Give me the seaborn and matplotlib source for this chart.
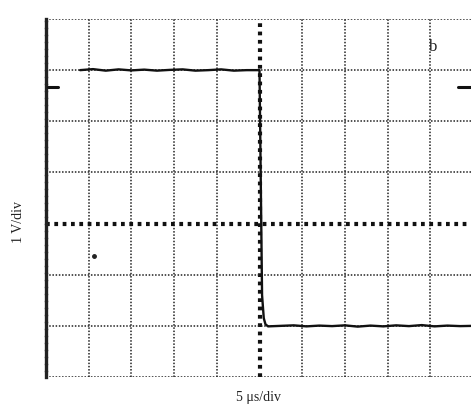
import matplotlib
matplotlib.use("Agg")
import matplotlib.pyplot as plt
import seaborn as sns
import pandas as pd

# time in microseconds (5 us/div), voltage in volts (1 V/div)
time_us = [-21.0, -19.5, -18.0, -16.5, -15.0, -13.5, -12.0, -10.5, -9.0, -7.5, -6.0, -4.5,
           -3.0, -1.5, 0.0, 0.3, 0.5, 0.7, 1.0, 2.5, 4.0, 5.5, 7.0, 8.5, 10.0, 11.5,
           13.0, 14.5, 16.0, 17.5, 19.0, 20.5, 22.0, 23.5, 25.0]
volts = [3.0, 3.02, 2.99, 3.015, 2.995, 3.01, 2.99, 3.005, 3.015, 2.99, 3.0, 3.015,
         2.99, 3.0, 3.0, -1.4, -1.85, -1.97, -2.01, -2.0, -1.99, -2.01, -1.995, -2.005, -1.99, -2.015,
         -1.995, -2.01, -1.99, -2.005, -1.985, -2.01, -1.995, -2.005, -2.0]
x_label = "5 \u03bcs/div"
y_label = "1 V/div"
panel_label = "b"

df = pd.DataFrame({"t": time_us, "v": volts})

sns.set_style("white")
plt.rcParams["font.family"] = ["Liberation Serif", "DejaVu Serif"]

fig = plt.figure(figsize=(4.71, 4.07), dpi=100)
W, H = 471, 407
ax = fig.add_axes([46 / W, (H - 377) / H, 427 / W, 358 / H])

xmin, xmax = -25, 25
ymin, ymax = -3, 4
ax.set_xlim(xmin, xmax)
ax.set_ylim(ymin, ymax)

grid_kw = dict(color="#222222", linewidth=1.1, linestyle=(0, (1, 1.1)), zorder=1)
for xv in range(-20, 25, 5):
    if xv == 0:
        ax.axvline(xv, color="#111111", linewidth=3.0, linestyle=(0, (0.9, 1.1)), zorder=1)
    else:
        ax.axvline(xv, **grid_kw)
for yv in range(-2, 4):
    if yv == 0:
        ax.axhline(yv, color="#111111", linewidth=3.0, linestyle=(0, (0.9, 1.1)), zorder=1)
    else:
        ax.axhline(yv, **grid_kw)
ax.axhline(ymax, **grid_kw)
ax.axhline(ymin, **grid_kw)

sns.lineplot(data=df, x="t", y="v", ax=ax, color="#111111", linewidth=1.7, zorder=3)

for side in ["top", "bottom", "right"]:
    ax.spines[side].set_visible(False)
ax.spines["left"].set_color("#222222")
ax.spines["left"].set_linewidth(2.4)
ax.spines["left"].set_linestyle((0, (1.5, 0.6)))

ax.set_xticks([])
ax.set_yticks([])
ax.set_xlabel("")
ax.set_ylabel("")

# trigger-level markers
ax.plot([-24.8, -23.6], [2.67, 2.67], color="#111111", linewidth=2.2, zorder=4, clip_on=False)
ax.plot([23.3, 24.8], [2.67, 2.67], color="#111111", linewidth=2.2, zorder=4, clip_on=False)
ax.plot([-19.4], [-0.63], marker="o", markersize=2.5, color="#222222", zorder=4)

ax.text(20.3, 3.46, panel_label, fontsize=12, color="#222222", ha="center", va="center")

fig.text(258 / W, 1 - 398 / H, x_label, fontsize=10, ha="center", va="center", color="#222222")
fig.text(18 / W, 1 - 222 / H, y_label, fontsize=10, ha="center", va="center",
         rotation=90, color="#222222")

fig.savefig("out.png", dpi=100)
